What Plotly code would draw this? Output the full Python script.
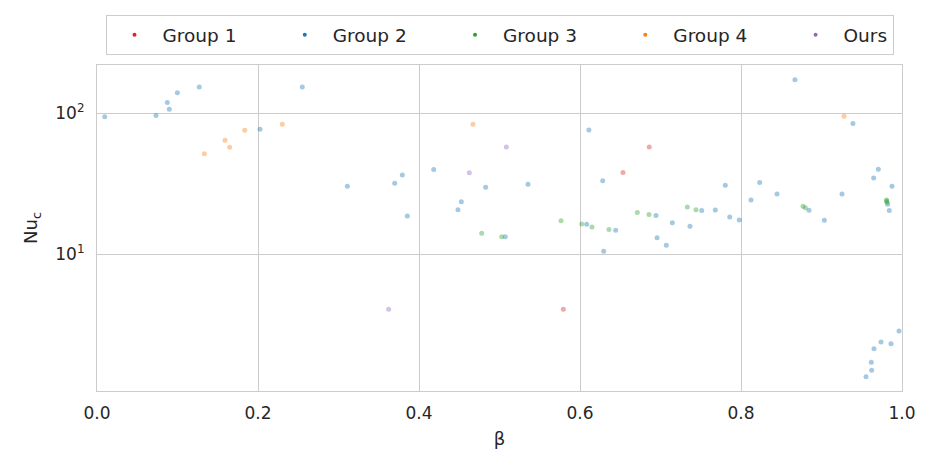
import plotly.graph_objects as go

# Group 1 (red)
g1_beta = [0.5793, 0.6534, 0.686]
g1_nu = [4.08, 37.9, 57.5]

# Group 2 (blue)
g2_beta = [0.0096, 0.0733, 0.0873, 0.0898, 0.0998, 0.127, 0.2025, 0.255,
           0.311, 0.3698, 0.3793, 0.3855, 0.4183, 0.4484, 0.4526, 0.4828, 0.5072, 0.5354,
           0.6083, 0.611, 0.6282, 0.6294, 0.6443, 0.6944, 0.6957, 0.7072, 0.7147, 0.7366,
           0.7512, 0.7681, 0.7805, 0.786, 0.7979, 0.8124, 0.8232, 0.8447, 0.867, 0.8845,
           0.9035, 0.9255, 0.939, 0.9648, 0.9706, 0.9822, 0.9842, 0.9876,
           0.9963, 0.9739, 0.9863, 0.9652, 0.9619, 0.9623, 0.9553]
g2_nu = [94.3, 95.9, 118.5, 106.2, 139.3, 152.8, 76.7, 152.8,
         30.3, 31.8, 36.4, 18.7, 39.8, 20.7, 23.6, 29.8, 13.3, 31.3,
         16.3, 76.0, 33.2, 10.5, 14.8, 18.8, 13.1, 11.6, 16.7, 15.8,
         20.4, 20.6, 30.8, 18.4, 17.5, 24.2, 32.2, 26.7, 172.0, 20.5,
         17.4, 26.7, 84.2, 34.7, 40.0, 22.6, 20.4, 30.3,
         2.865, 2.395, 2.333, 2.15, 1.72, 1.51, 1.36]

# Group 3 (green)
g3_beta = [0.4779, 0.5027, 0.5764, 0.6021, 0.6149, 0.636, 0.6712, 0.6857,
           0.7333, 0.7441, 0.877, 0.8799, 0.9808, 0.981, 0.9812]
g3_nu = [14.1, 13.3, 17.3, 16.4, 15.6, 15.0, 19.8, 19.1,
         21.6, 20.7, 21.9, 21.4, 24.2, 23.8, 23.4]

# Group 4 (orange)
g4_beta = [0.1333, 0.159, 0.1648, 0.1835, 0.2302, 0.467, 0.928]
g4_nu = [51.6, 64.1, 57.2, 75.5, 83.2, 83.2, 94.8]

# Ours (purple)
ours_beta = [0.3623, 0.4625, 0.5085]
ours_nu = [4.08, 37.8, 57.5]

names = ["Group 1", "Group 2", "Group 3", "Group 4", "Ours"]
colors = ["#d62728", "#1f77b4", "#2ca02c", "#ff7f0e", "#9467bd"]
data = [(g1_beta, g1_nu), (g2_beta, g2_nu), (g3_beta, g3_nu), (g4_beta, g4_nu), (ours_beta, ours_nu)]

y_ticks = [10, 100]
y_ticktext = ["10<sup>1</sup>", "10<sup>2</sup>"]
x_ticks = [0.0, 0.2, 0.4, 0.6, 0.8, 1.0]

fig = go.Figure()
for name, col, (xs, ys) in zip(names, colors, data):
    fig.add_trace(go.Scatter(x=xs, y=ys, mode="markers", name=name, showlegend=False,
                             marker=dict(color=col, size=5, opacity=0.4, line=dict(width=0))))
pad = "\u00a0" * 6
for i, (name, col) in enumerate(zip(names, colors)):
    label = name + (pad if i < len(names) - 1 else "")
    fig.add_trace(go.Scatter(x=[None], y=[None], mode="markers", name=label, showlegend=True,
                             marker=dict(color=col, size=4, line=dict(width=0))))

font_color = "#262626"
fig.update_layout(
    width=936, height=473,
    margin=dict(l=97, r=34, t=65, b=82),
    paper_bgcolor="white", plot_bgcolor="white",
    font=dict(family="DejaVu Sans", size=17, color=font_color),
    legend=dict(orientation="h", x=0.5, xanchor="center",
                y=1.03, yanchor="bottom", itemwidth=46,
                bordercolor="#cccccc", borderwidth=1, font=dict(size=18.5)),
    xaxis=dict(range=[0, 1], tickvals=x_ticks, tickformat=".1f",
               showgrid=True, gridcolor="#cccccc", gridwidth=1,
               showline=True, mirror=True, linecolor="#cccccc", linewidth=1.25,
               zeroline=False, ticks="", tickfont=dict(size=17), ticklabelstandoff=6,
               title=dict(text="β", font=dict(size=18), standoff=10)),
    yaxis=dict(type="log", range=[0.0326, 2.340], tickvals=y_ticks, ticktext=y_ticktext,
               showgrid=True, gridcolor="#cccccc", gridwidth=1,
               showline=True, mirror=True, linecolor="#cccccc", linewidth=1.25,
               zeroline=False, ticks="", tickfont=dict(size=17), ticklabelstandoff=8,
               title=dict(text="Nu<sub>c</sub>", font=dict(size=18), standoff=12)),
)

fig.write_html("out.html")
